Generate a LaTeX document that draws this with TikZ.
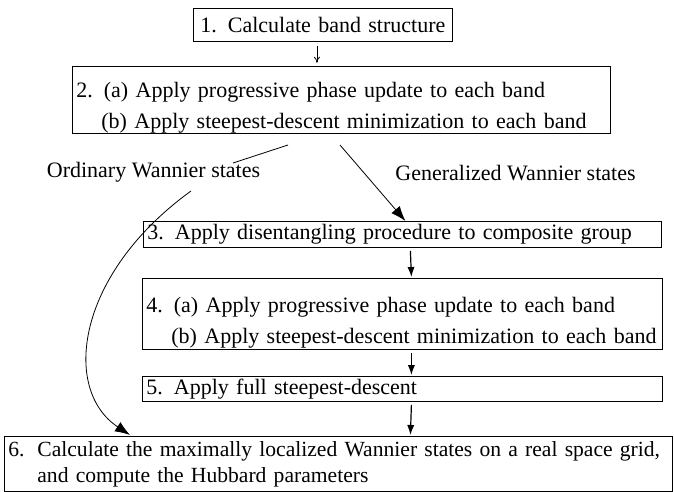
\documentclass[tikz,border=0pt]{standalone}
\usepackage{fontspec}
\setmainfont{Liberation Serif}
\usetikzlibrary{arrows.meta,calc}

\tikzset{
  stepbox/.style={draw, thin, anchor=north west, align=left, inner xsep=2pt, inner ysep=0pt,
    font=\fontsize{11}{13}\selectfont},
  lbl/.style={font=\fontsize{11}{13}\selectfont},
  flow/.style={-{Latex[length=5pt,width=3.6pt]}, semithick},
  bigflow/.style={-{Latex[length=7.5pt,width=5.5pt]}},
}

\begin{document}
\begin{tikzpicture}[x=0.5pt,y=-0.5pt]
    \useasboundingbox (0,0) rectangle (674,492);

    % Cajas
    \node[stepbox, minimum width=129.5pt, minimum height=16.5pt, text width=125.5pt, align=center] (b1) at (193,8)
        {1.\enspace Calculate band structure};
    \node[stepbox, minimum width=269pt, minimum height=33.5pt, text width=265pt] (b2) at (72,66)
        {\rule{0pt}{15.5pt}2.\enspace (a) Apply progressive phase update to each band\\[2.5pt]
         \hspace*{12.5pt}(b) Apply steepest-descent minimization to each band};
    \node[stepbox, minimum width=259pt, minimum height=13pt, text width=255pt] (b3) at (143,221)
        {3.\enspace Apply disentangling procedure to composite group};
    \node[stepbox, minimum width=260pt, minimum height=35.5pt, text width=256pt] (b4) at (142,278)
        {\rule{0pt}{16pt}4.\enspace (a) Apply progressive phase update to each band\\[2.5pt]
         \hspace*{12.5pt}(b) Apply steepest-descent minimization to each band};
    \node[stepbox, minimum width=260pt, minimum height=12.5pt, text width=256pt] (b5) at (142,376)
        {5.\enspace Apply full steepest-descent};
    \node[stepbox, minimum width=334pt, minimum height=27.5pt, text width=330pt,
          font=\fontsize{10.8}{13}\selectfont] (b6) at (4,436)
        {\mbox{\makebox[14.5pt][l]{6.}Calculate the maximally localized Wannier states on a real space grid,}\\
         \hspace*{14.5pt}and compute the Hubbard parameters};

    % Etiquetas
    \node[lbl] (ord) at (153.5,172) {Ordinary Wannier states};
    \node[lbl] (gen) at (515.5,173) {Generalized Wannier states};

    % Flechas
    \draw[-{To[length=3pt,width=3pt]}, thin] ($(b1.south)+(-6,4)$) -- ($(b1.south)+(-6,21)$);
    \coordinate (o1) at (288,145);
    \coordinate (o2) at (233,163);
    \coordinate (g1) at (340,145);
    \coordinate (c1) at (191,191);
    \draw[thin] (o1) -- (o2);
    \draw[bigflow] (g1) -- ($(b3.north)+(3,0)$);
    \draw[bigflow] (c1) .. controls (75,275) and (62,390) .. ($(b6.north west)+(126,-1)$);
    \draw[flow] ($(b3.south)+(8,3)$) -- ($(b4.north)+(9,-1)$);
    \draw[flow] ($(b4.south)+(9,3)$) -- ($(b5.north)+(9,-1)$);
    \draw[flow] ($(b5.south)+(9,3)$) -- ($(b6.north)+(72,-1)$);
\end{tikzpicture}
\end{document}
